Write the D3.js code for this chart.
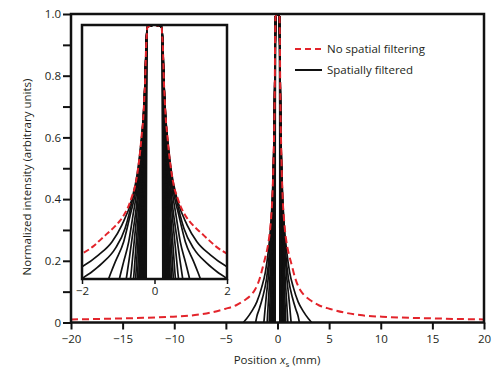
<!DOCTYPE html>
<html>
<head>
<meta charset="utf-8">
<script src="https://cdnjs.cloudflare.com/ajax/libs/d3/7.8.5/d3.min.js"></script>
<style>
  body { margin: 0; background: #fff; }
  svg text { font-family: "Open Sans", "Noto Sans", sans-serif; fill: #231f20; }
</style>
</head>
<body>
<div id="wrapper"></div>
<script>
// half profiles (x >= 0), mirrored when drawn
const peakHead = [[0, 1], [0.1, 0.998], [0.2, 0.99]]

const noFilter = [[0.21, 0.965], [0.23, 0.92], [0.26, 0.78], [0.28, 0.72], [0.31, 0.64], [0.35, 0.58],
  [0.39, 0.52], [0.47, 0.43], [0.54, 0.376], [0.63, 0.335], [0.72, 0.30], [0.83, 0.27], [0.95, 0.245],
  [1.1, 0.222], [1.3, 0.196], [1.5, 0.17], [1.7, 0.145], [2.0, 0.118], [2.2, 0.105], [2.6, 0.088],
  [3.15, 0.073], [4, 0.056], [5.1, 0.044], [6.5, 0.032], [8, 0.024], [10.6, 0.018], [13, 0.015],
  [15.5, 0.013], [18, 0.011], [20, 0.01]]

// one entry per filtered curve, outermost first
const filtered = [
  [[0.23, 0.92], [0.26, 0.78], [0.31, 0.64], [0.39, 0.52], [0.47, 0.43], [0.62, 0.33], [0.9, 0.228], [1.17, 0.164], [1.54, 0.113], [2.0, 0.067], [2.5, 0.036], [3.0, 0.012], [3.3, 0]],
  [[0.23, 0.92], [0.26, 0.78], [0.31, 0.64], [0.39, 0.515], [0.47, 0.42], [0.6, 0.33], [0.81, 0.216], [1.08, 0.138], [1.45, 0.08], [1.75, 0.045], [2.0, 0.02], [2.12, 0]],
  [[0.23, 0.92], [0.26, 0.78], [0.31, 0.635], [0.39, 0.505], [0.5, 0.375], [0.67, 0.267], [0.85, 0.164], [1.08, 0.087], [1.2, 0.045], [1.32, 0]],
  [[0.23, 0.915], [0.26, 0.775], [0.3, 0.655], [0.35, 0.557], [0.5, 0.348], [0.6, 0.26], [0.71, 0.164], [0.85, 0.087], [0.96, 0.025], [1.0, 0]],
  [[0.23, 0.91], [0.26, 0.77], [0.3, 0.65], [0.4, 0.455], [0.5, 0.30], [0.6, 0.195], [0.7, 0.095], [0.76, 0.038], [0.8, 0]],
  [[0.23, 0.905], [0.28, 0.70], [0.36, 0.51], [0.44, 0.35], [0.52, 0.22], [0.6, 0.108], [0.645, 0.043], [0.68, 0]],
  [[0.23, 0.9], [0.265, 0.745], [0.33, 0.54], [0.395, 0.386], [0.46, 0.245], [0.525, 0.12], [0.562, 0.047], [0.59, 0]],
  [[0.23, 0.9], [0.255, 0.775], [0.31, 0.57], [0.365, 0.42], [0.42, 0.27], [0.475, 0.132], [0.507, 0.052], [0.53, 0]],
  [[0.225, 0.91], [0.247, 0.815], [0.293, 0.61], [0.34, 0.446], [0.387, 0.294], [0.433, 0.146], [0.46, 0.058], [0.48, 0]],
  [[0.22, 0.93], [0.24, 0.845], [0.28, 0.64], [0.32, 0.47], [0.36, 0.316], [0.4, 0.158], [0.423, 0.063], [0.44, 0]],
  [[0.218, 0.935], [0.236, 0.86], [0.273, 0.66], [0.31, 0.485], [0.346, 0.33], [0.383, 0.165], [0.404, 0.066], [0.42, 0]],
  [[0.215, 0.94], [0.233, 0.88], [0.267, 0.676], [0.3, 0.5], [0.333, 0.34], [0.367, 0.17], [0.386, 0.068], [0.4, 0]],
  [[0.213, 0.942], [0.23, 0.89], [0.261, 0.69], [0.292, 0.515], [0.323, 0.35], [0.354, 0.177], [0.372, 0.071], [0.385, 0]],
  [[0.212, 0.945], [0.228, 0.90], [0.256, 0.71], [0.285, 0.53], [0.314, 0.355], [0.341, 0.184], [0.358, 0.074], [0.37, 0]],
  [[0.211, 0.948], [0.226, 0.902], [0.251, 0.73], [0.277, 0.545], [0.303, 0.368], [0.328, 0.19], [0.344, 0.077], [0.355, 0]],
  [[0.21, 0.95], [0.224, 0.905], [0.246, 0.755], [0.27, 0.56], [0.293, 0.38], [0.316, 0.195], [0.33, 0.08], [0.34, 0]],
  [[0.209, 0.952], [0.221, 0.91], [0.241, 0.77], [0.262, 0.58], [0.283, 0.395], [0.303, 0.204], [0.316, 0.083], [0.325, 0]],
  [[0.208, 0.955], [0.219, 0.917], [0.236, 0.79], [0.255, 0.6], [0.274, 0.41], [0.291, 0.214], [0.302, 0.086], [0.31, 0]],
  [[0.215, 0.925], [0.23, 0.82], [0.245, 0.645], [0.26, 0.44], [0.275, 0.228], [0.284, 0.092], [0.29, 0]],
  [[0.212, 0.93], [0.223, 0.83], [0.235, 0.67], [0.247, 0.47], [0.258, 0.245], [0.265, 0.1], [0.27, 0]],
  [[0.208, 0.94], [0.216, 0.85], [0.225, 0.70], [0.234, 0.50], [0.241, 0.27], [0.246, 0.11], [0.25, 0]],
  [[0.205, 0.95], [0.21, 0.86], [0.215, 0.72], [0.22, 0.53], [0.225, 0.29], [0.23, 0]]
]

const xTicks = [-20, -15, -10, -5, 0, 5, 10, 15, 20]
const yTicks = [0, 0.1, 0.2, 0.3, 0.4, 0.5, 0.6, 0.7, 0.8, 0.9, 1.0]
const yLabels = ["0", "", "0.2", "", "0.4", "", "0.6", "", "0.8", "", "1.0"]
const insetTicks = [-2, 0, 2]
const insetLabels = ["\u22122", "0", "2"]
const legendItems = ["No spatial filtering", "Spatially filtered"]

const red = "#e3242b"
const fontSize = "11.5px"

let dimensions = {
  width: 500,
  height: 390,
  margin: { top: 14, right: 16, bottom: 67.5, left: 71 },
}
dimensions.boundedWidth = dimensions.width - dimensions.margin.left - dimensions.margin.right
dimensions.boundedHeight = dimensions.height - dimensions.margin.top - dimensions.margin.bottom

const svg = d3.select("#wrapper")
  .append("svg")
    .attr("width", dimensions.width)
    .attr("height", dimensions.height)

const x = d3.scaleLinear().domain([-20, 20])
  .range([dimensions.margin.left, dimensions.margin.left + dimensions.boundedWidth])
const y = d3.scaleLinear().domain([0, 1])
  .range([dimensions.margin.top + dimensions.boundedHeight, dimensions.margin.top])

// mirror a half profile into a full curve
function fullCurve(tail) {
  const half = peakHead.concat(tail)
  const left = half.slice(1).reverse().map(d => [-d[0], d[1]])
  return left.concat(half)
}

function drawCurves(g, xs, ys, dash) {
  const line = d3.line()
    .x(d => xs(d[0]))
    .y(d => ys(d[1]))
    .curve(d3.curveMonotoneX)
  g.selectAll(".filtered")
    .data(filtered)
    .enter().append("path")
      .attr("class", "filtered")
      .attr("d", d => line(fullCurve(d)))
      .attr("fill", "none")
      .attr("stroke", "#111")
      .attr("stroke-width", 1.7)
  g.append("path")
    .attr("d", line(fullCurve(noFilter)))
    .attr("fill", "none")
    .attr("stroke", red)
    .attr("stroke-width", 2)
    .attr("stroke-dasharray", dash)
}

const defs = svg.append("defs")
defs.append("clipPath").attr("id", "main-clip")
  .append("rect")
    .attr("x", x(-20)).attr("y", y(1) - 2)
    .attr("width", x(20) - x(-20)).attr("height", y(0) - y(1) + 2)

// main curves
drawCurves(svg.append("g").attr("clip-path", "url(#main-clip)"), x, y, "7,4")

// y axis
const yAxis = svg.append("g")
  .attr("transform", `translate(${x(-20)},0)`)
  .call(d3.axisLeft(y).tickValues(yTicks).tickSize(8).tickPadding(2)
    .tickFormat((d, i) => yLabels[i]))
yAxis.select(".domain").remove()
yAxis.selectAll("line").attr("stroke-width", 2).attr("stroke", "#111")
yAxis.selectAll("text").style("font-size", fontSize).style("font-family", null)

// x axis
const xAxis = svg.append("g")
  .attr("transform", `translate(0,${y(0)})`)
  .call(d3.axisBottom(x).tickValues(xTicks).tickSize(7).tickPadding(5))
xAxis.select(".domain").remove()
xAxis.selectAll("line").attr("stroke-width", 2).attr("stroke", "#111")
xAxis.selectAll("text").style("font-size", fontSize).style("font-family", null)

// frame
svg.append("rect")
  .attr("x", x(-20)).attr("y", y(1))
  .attr("width", x(20) - x(-20)).attr("height", y(0) - y(1))
  .attr("fill", "none").attr("stroke", "#111").attr("stroke-width", 2.5)

// axis titles
svg.append("text")
  .attr("transform", `translate(31,177) rotate(-90)`)
  .attr("text-anchor", "middle")
  .style("font-size", fontSize)
  .text("Normalized intensity (arbitrary units)")

const xTitle = svg.append("text")
  .attr("x", 277).attr("y", 364)
  .attr("text-anchor", "middle")
  .style("font-size", fontSize)
xTitle.append("tspan").text("Position ")
xTitle.append("tspan").style("font-style", "italic").text("x")
xTitle.append("tspan").attr("dy", 3).style("font-size", "8px").text("s")
xTitle.append("tspan").attr("dy", -3).text(" (mm)")

// legend
const legend = svg.append("g").attr("transform", "translate(295,49)")
legendItems.forEach((label, i) => {
  const row = legend.append("g").attr("transform", `translate(0,${i * 21})`)
  row.append("line")
    .attr("x1", 0).attr("x2", 27)
    .attr("stroke", i === 0 ? red : "#111")
    .attr("stroke-width", 2)
    .attr("stroke-dasharray", i === 0 ? "6,4" : null)
  row.append("text")
    .attr("x", 32).attr("dy", "0.35em")
    .style("font-size", fontSize)
    .text(label)
})

// inset
const xi = d3.scaleLinear().domain([-2, 2]).range([82, 227])
const yi = d3.scaleLinear().domain([0.02, 1]).range([279, 25])

defs.append("clipPath").attr("id", "inset-clip")
  .append("rect")
    .attr("x", xi(-2)).attr("y", yi(1))
    .attr("width", xi(2) - xi(-2)).attr("height", yi(0.02) - yi(1))

svg.append("rect")
  .attr("x", xi(-2)).attr("y", yi(1))
  .attr("width", xi(2) - xi(-2)).attr("height", yi(0.02) - yi(1))
  .attr("fill", "#fff")

drawCurves(svg.append("g").attr("clip-path", "url(#inset-clip)"), xi, yi, "6,3")

const insetAxis = svg.append("g")
  .attr("transform", `translate(0,${yi(0.02)})`)
  .call(d3.axisBottom(xi).tickValues(insetTicks).tickSize(5).tickPadding(3)
    .tickFormat((d, i) => insetLabels[i]))
insetAxis.select(".domain").remove()
insetAxis.selectAll("line").attr("stroke-width", 1.5).attr("stroke", "#111")
insetAxis.selectAll("text").style("font-size", fontSize).style("font-family", null)

svg.append("rect")
  .attr("x", xi(-2)).attr("y", yi(1))
  .attr("width", xi(2) - xi(-2)).attr("height", yi(0.02) - yi(1))
  .attr("fill", "none").attr("stroke", "#111").attr("stroke-width", 2.5)
</script>
</body>
</html>
